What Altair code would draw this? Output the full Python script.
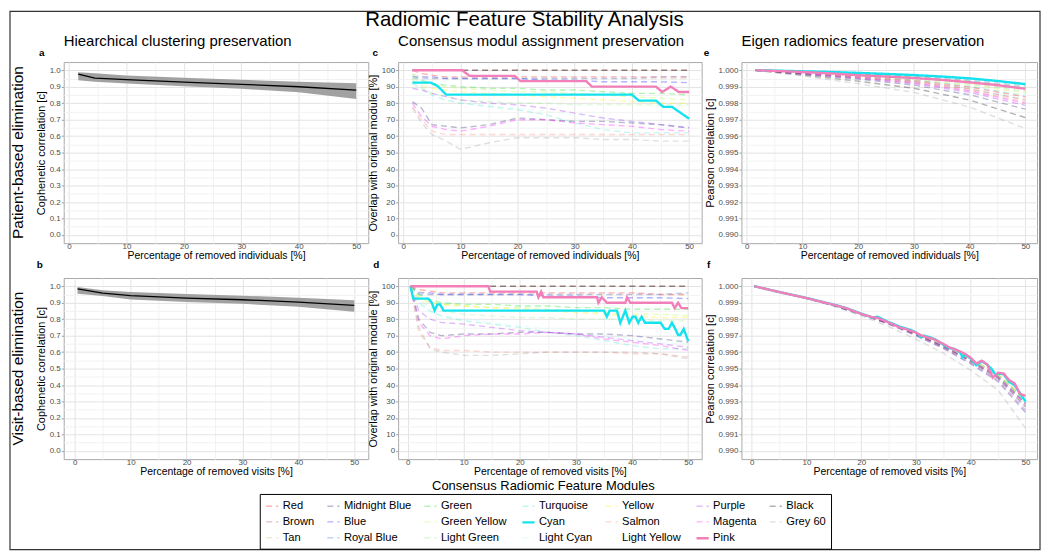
import altair as alt
import pandas as pd

FONT = "Liberation Sans"
H = 182
W1, W2, W3 = 306, 305, 297

# ---------------- module definitions ----------------
# legend is filled column by column (3 rows, 7 columns)
LEGEND_ORDER = ["Red", "Brown", "Tan", "Midnight Blue", "Blue", "Royal Blue",
                "Green", "Green Yellow", "Light Green", "Turquoise", "Cyan", "Light Cyan",
                "Yellow", "Salmon", "Light Yellow", "Purple", "Magenta", "Pink",
                "Black", "Grey 60"]
MODULE_COLORS = {
    "Red": "#ff0000", "Brown": "#a52a2a", "Tan": "#d2b48c",
    "Midnight Blue": "#191970", "Blue": "#0000ff", "Royal Blue": "#4169e1",
    "Green": "#00e000", "Green Yellow": "#adff2f", "Light Green": "#90ee90",
    "Turquoise": "#40e0d0", "Cyan": "#14e3ef", "Light Cyan": "#c8f8f8",
    "Yellow": "#ffee00", "Salmon": "#fa8072", "Light Yellow": "#fffad0",
    "Purple": "#a020f0", "Magenta": "#ff00ff", "Pink": "#f27fb9",
    "Black": "#000000", "Grey 60": "#999999",
}
SOLID_MODULES = ["Cyan", "Pink"]

# ---------------- panel a / b : cophenetic correlation ----------------
A_X = [1.6, 4.5, 10, 20, 30, 40, 50]
A_MID = [0.976, 0.953, 0.943, 0.928, 0.915, 0.900, 0.880]
A_LO = [0.940, 0.930, 0.920, 0.903, 0.888, 0.866, 0.826]
A_HI = [0.988, 0.982, 0.968, 0.955, 0.943, 0.930, 0.921]

B_X = [0.5, 5, 10, 20, 30, 40, 50]
B_MID = [0.984, 0.958, 0.943, 0.928, 0.918, 0.904, 0.884]
B_LO = [0.955, 0.940, 0.920, 0.905, 0.893, 0.876, 0.845]
B_HI = [0.995, 0.975, 0.965, 0.953, 0.943, 0.930, 0.915]

# ---------------- panel c : module overlap, patients ----------------
C_X = [1.6, 3.2, 5, 7.5, 10, 15, 20, 25, 30, 35, 40, 45, 50]
C_FAINT = {
    "Red": [100, 98, 97, 96, 96, 96, 96, 96, 96, 96, 96, 96, 96],
    "Brown": [100, 100, 100, 100, 100, 100, 100, 100, 100, 100, 100, 100, 100],
    "Tan": [98, 96, 95, 95, 95, 95, 95, 95, 95, 95, 95, 95, 95],
    "Midnight Blue": [81, 77, 67, 66, 65, 67, 71, 70, 69, 69, 68, 67, 65],
    "Blue": [96, 96, 96, 95, 95, 95, 95, 94, 94, 93, 93, 93, 92.5],
    "Royal Blue": [95, 95, 95, 95, 95, 95, 95, 95, 95, 95, 95, 96, 96],
    "Green": [97, 94, 92, 91, 90, 89, 89, 88, 88, 87, 86, 86, 85],
    "Green Yellow": [95, 93, 91, 90, 89, 88, 87, 87, 86, 85, 84, 83, 82],
    "Light Green": [94, 90, 86, 84, 82, 81, 80, 80, 79, 79, 79, 79, 79],
    "Turquoise": [92, 89, 85, 82, 80, 78, 76, 73, 68, 64, 62, 62, 62],
    "Light Cyan": [90, 86, 83, 82, 81, 79, 77, 75, 73, 71, 69, 67, 66],
    "Yellow": [93, 91, 89, 88, 87, 86, 85, 84, 83, 82, 81, 80, 80],
    "Salmon": [78, 70, 63, 61, 61, 61, 61, 61, 61, 61, 61, 61, 61],
    "Light Yellow": [91, 89, 87, 86, 85, 84, 83, 82, 81, 80, 79, 78, 78],
    "Purple": [89, 88, 86, 84, 82, 80, 79, 77, 74, 71, 69, 67, 65],
    "Magenta": [80, 72, 66, 64, 63, 66, 70, 70, 68, 67, 66, 64, 63],
    "Black": [100, 100, 100, 100, 100, 100, 100, 100, 100, 100, 100, 100, 100],
    "Grey 60": [77, 68, 61, 57, 52, 56, 59, 59, 59, 58, 58, 57, 57],
}
C_CYAN_X = [1.6, 3.2, 4.8, 6.0, 7.5, 40, 41.2, 44.2, 45.5, 47, 50]
C_CYAN_Y = [92.5, 92.5, 92.5, 90.5, 85.2, 85.2, 81.6, 81.6, 77.8, 77.8, 70.6]
C_PINK_X = [1.6, 10.3, 11.6, 19.5, 20.5, 32, 33, 44.2, 45.3, 46.8, 48.2, 50]
C_PINK_Y = [100, 100, 96.6, 96.6, 93.4, 93.4, 90.1, 90.1, 86.8, 90.1, 86.8, 86.8]

# ---------------- panel d : module overlap, visits ----------------
D_X = [0.5, 2, 4, 6, 10, 15, 20, 25, 30, 35, 40, 45, 50]
D_FAINT = {
    "Red": [100, 98, 97, 96, 96, 96, 96, 96, 96, 96, 96, 95, 95],
    "Brown": [100, 100, 100, 100, 100, 100, 100, 100, 100, 100, 100, 100, 100],
    "Tan": [100, 97, 95, 95, 95, 95, 95, 95, 95, 95, 95, 95, 95],
    "Midnight Blue": [100, 80, 72, 70, 71, 71, 72, 72, 71, 71, 70, 68, 66],
    "Blue": [100, 96, 96, 95, 95, 95, 95, 94, 94, 93, 93, 93, 92.5],
    "Royal Blue": [100, 95, 95, 95, 95, 95, 95, 95, 95, 95, 95, 95, 96],
    "Green": [100, 95, 92, 90, 89, 89, 88, 88, 87, 87, 86, 86, 86],
    "Green Yellow": [100, 94, 91, 89, 88, 87, 87, 86, 85, 84, 83, 83, 82],
    "Light Green": [100, 92, 87, 85, 83, 82, 81, 81, 80, 80, 80, 79, 79],
    "Turquoise": [100, 90, 85, 82, 79, 77, 75, 72, 70, 67, 64, 62, 62],
    "Light Cyan": [100, 88, 84, 82, 80, 78, 76, 74, 72, 70, 68, 66, 65],
    "Yellow": [100, 93, 90, 89, 88, 87, 86, 85, 84, 83, 82, 81, 81],
    "Salmon": [100, 72, 63, 61, 61, 60, 60, 60, 60, 60, 59, 59, 57],
    "Light Yellow": [100, 91, 88, 87, 86, 85, 84, 83, 82, 81, 80, 80, 79],
    "Purple": [100, 85, 80, 78, 77, 75, 73, 72, 71, 69, 67, 65, 63],
    "Magenta": [100, 78, 70, 68, 70, 71, 71, 72, 71, 68, 66, 64, 61],
    "Black": [100, 100, 100, 100, 100, 100, 100, 100, 100, 100, 100, 100, 100],
    "Grey 60": [100, 75, 62, 60, 58, 58, 59, 60, 60, 60, 60, 59, 56],
}
D_CYAN_X = [0.5, 1.0, 3.7, 4.3, 4.8, 5.3, 5.8, 6.4, 35, 35.5, 36, 37.3, 37.9, 38.8, 39.5,
            40.1, 40.6, 41.1, 41.7, 42.3, 45.1, 45.8, 46.5, 47.1, 47.7, 48.2, 48.6, 49.2, 50]
D_CYAN_Y = [100, 92.5, 92.5, 90, 85.3, 88.9, 88.9, 85.2, 85.2, 81.5, 85.2, 85.2, 77.8, 85.2, 77.8,
            81.5, 81.5, 77.8, 81.5, 77.8, 77.8, 74.1, 74.1, 77.8, 74.1, 70.4, 70.4, 74.1, 66.7]
D_PINK_X = [0.5, 14.4, 14.7, 23.0, 23.3, 23.8, 24.2, 33.75, 34.0, 34.6, 35.5, 38.8, 39.1,
            39.7, 47.1, 47.6, 48.2, 48.8, 50]
D_PINK_Y = [100, 100, 96.7, 96.7, 93.3, 96.7, 93.3, 93.3, 90, 93.3, 90, 90, 93.3,
            90, 90, 86.7, 90, 86.7, 86.7]

# ---------------- panel e : eigen feature correlation, patients ----------------
E_X = [1.6, 10, 20, 30, 40, 50]
E_FAINT = {
    "Blue": [1.0, 0.99992, 0.99982, 0.9997, 0.9995, 0.9992],
    "Royal Blue": [1.0, 0.99990, 0.99978, 0.99964, 0.99940, 0.99905],
    "Green": [1.0, 0.99990, 0.99976, 0.99960, 0.99934, 0.99896],
    "Yellow": [1.0, 0.99988, 0.99974, 0.99956, 0.99928, 0.99885],
    "Tan": [1.0, 0.99988, 0.99972, 0.99954, 0.99923, 0.99878],
    "Light Green": [1.0, 0.99987, 0.99970, 0.99951, 0.99918, 0.99870],
    "Green Yellow": [1.0, 0.99986, 0.99968, 0.99948, 0.99913, 0.99862],
    "Light Yellow": [1.0, 0.99986, 0.99967, 0.99945, 0.99909, 0.99855],
    "Turquoise": [1.0, 0.99985, 0.99965, 0.99942, 0.99903, 0.99846],
    "Red": [1.0, 0.99984, 0.99963, 0.99938, 0.99898, 0.99838],
    "Light Cyan": [1.0, 0.99983, 0.99961, 0.99935, 0.99892, 0.99829],
    "Brown": [1.0, 0.99982, 0.99959, 0.99932, 0.99887, 0.99820],
    "Salmon": [1.0, 0.99981, 0.99956, 0.99927, 0.99879, 0.99808],
    "Magenta": [1.0, 0.99980, 0.99954, 0.99924, 0.99874, 0.99800],
    "Purple": [1.0, 0.99979, 0.99951, 0.99919, 0.99866, 0.99787],
    "Midnight Blue": [1.0, 0.99976, 0.99946, 0.99910, 0.99851, 0.99764],
    "Black": [1.0, 0.99971, 0.99934, 0.99891, 0.99819, 0.99713],
    "Grey 60": [1.0, 0.99965, 0.99919, 0.99866, 0.99777, 0.99646],
}
E_CYAN_X = [1.6, 5, 10, 15, 20, 25, 30, 35, 40, 45, 50]
E_CYAN_Y = [1.0, 0.99998, 0.99994, 0.99990, 0.99984, 0.99978, 0.99971, 0.99962, 0.99951, 0.99935, 0.99916]
E_PINK_X = [1.6, 5, 10, 15, 20, 25, 30, 35, 40, 45, 50]
E_PINK_Y = [1.0, 0.99996, 0.99990, 0.99981, 0.99970, 0.99962, 0.99953, 0.99942, 0.99927, 0.99910, 0.99888]

# ---------------- panel f : eigen feature correlation, visits ----------------
F_X = [0.5, 5, 10, 15, 20, 25, 30, 35, 40, 45, 50]
F_FAINT = {
    "Red": [1.0, 0.99965, 0.99929, 0.99885, 0.99834, 0.99781, 0.99716, 0.99644, 0.99558, 0.99462, 0.99308],
    "Brown": [1.0, 0.99965, 0.99929, 0.99884, 0.99832, 0.99779, 0.99713, 0.9964, 0.99552, 0.99454, 0.99293],
    "Tan": [1.0, 0.99965, 0.99929, 0.99885, 0.99834, 0.99782, 0.99717, 0.99646, 0.9956, 0.99465, 0.99313],
    "Midnight Blue": [1.0, 0.99965, 0.99927, 0.99882, 0.99828, 0.9977, 0.99699, 0.99622, 0.99528, 0.99421, 0.99233],
    "Blue": [1.0, 0.99965, 0.99928, 0.99884, 0.99832, 0.99778, 0.99711, 0.99638, 0.9955, 0.99451, 0.99288],
    "Royal Blue": [1.0, 0.99965, 0.99929, 0.99885, 0.99833, 0.9978, 0.99715, 0.99643, 0.99556, 0.99459, 0.99303],
    "Green": [1.0, 0.99965, 0.99929, 0.99885, 0.99834, 0.99782, 0.99716, 0.99645, 0.99559, 0.99463, 0.9931],
    "Green Yellow": [1.0, 0.99965, 0.99929, 0.99884, 0.99833, 0.99779, 0.99713, 0.99641, 0.99553, 0.99455, 0.99295],
    "Light Green": [1.0, 0.99965, 0.99929, 0.99885, 0.99833, 0.99781, 0.99715, 0.99644, 0.99557, 0.99461, 0.99305],
    "Turquoise": [1.0, 0.99965, 0.99929, 0.99884, 0.99832, 0.99779, 0.99712, 0.99639, 0.99551, 0.99453, 0.99291],
    "Light Cyan": [1.0, 0.99965, 0.99929, 0.99885, 0.99833, 0.9978, 0.99714, 0.99642, 0.99555, 0.99458, 0.99301],
    "Yellow": [1.0, 0.99965, 0.99929, 0.99885, 0.99834, 0.99781, 0.99716, 0.99645, 0.99558, 0.99463, 0.99309],
    "Salmon": [1.0, 0.99965, 0.99928, 0.99884, 0.99831, 0.99777, 0.99709, 0.99635, 0.99546, 0.99446, 0.99278],
    "Light Yellow": [1.0, 0.99965, 0.99929, 0.99885, 0.99834, 0.99782, 0.99717, 0.99645, 0.99559, 0.99464, 0.99311],
    "Purple": [1.0, 0.99965, 0.99928, 0.99882, 0.99829, 0.99772, 0.99703, 0.99626, 0.99534, 0.99429, 0.99248],
    "Magenta": [1.0, 0.99965, 0.99928, 0.99884, 0.99832, 0.99777, 0.9971, 0.99637, 0.99548, 0.99448, 0.99283],
    "Black": [1.0, 0.99965, 0.99928, 0.99883, 0.9983, 0.99775, 0.99707, 0.99632, 0.99542, 0.9944, 0.99268],
    "Grey 60": [1.0, 0.99965, 0.99925, 0.99878, 0.9982, 0.99756, 0.99678, 0.99593, 0.9949, 0.99369, 0.99138],
}
F_CYAN_X = [0.5, 5, 10, 15, 17, 20, 22, 23, 25, 27, 28, 29, 30, 31, 31.5, 33, 34, 35, 36, 37, 38,
            38.5, 39, 40, 41, 42, 43, 44, 44.5, 45, 46, 47, 48, 49, 50]
F_CYAN_Y = [1.0, 0.99965, 0.99929, 0.99888, 0.9987, 0.99834, 0.9981, 0.99815, 0.99782, 0.99755,
            0.99745, 0.99735, 0.9972, 0.9969, 0.997, 0.99685, 0.99668, 0.99645, 0.99625, 0.9962,
            0.996, 0.9957, 0.99585, 0.9956, 0.9952, 0.99545, 0.99525, 0.9949, 0.9946, 0.9947,
            0.99465, 0.9942, 0.994, 0.9935, 0.993]
F_PINK_X = [0.5, 5, 10, 15, 17, 20, 22, 23, 25, 27, 28, 30, 31, 33, 35, 36, 38, 39, 40, 41, 42,
            43, 44, 45, 46, 47, 48, 49, 50]
F_PINK_Y = [1.0, 0.99965, 0.99928, 0.99887, 0.9987, 0.99832, 0.99812, 0.99808, 0.9978, 0.9975,
            0.99742, 0.99718, 0.997, 0.99682, 0.9965, 0.9963, 0.99605, 0.99588, 0.99565, 0.9953,
            0.99548, 0.99525, 0.99445, 0.99475, 0.9947, 0.9943, 0.9941, 0.99345, 0.99335]

# ---------------- axis ticks ----------------
X_TICKS = [0, 5, 10, 15, 20, 25, 30, 35, 40, 45, 50]
A_Y_TICKS = [0.0, 0.05, 0.1, 0.15, 0.2, 0.25, 0.3, 0.35, 0.4, 0.45, 0.5,
             0.55, 0.6, 0.65, 0.7, 0.75, 0.8, 0.85, 0.9, 0.95, 1.0]
C_Y_TICKS = [0, 5, 10, 15, 20, 25, 30, 35, 40, 45, 50, 55, 60, 65, 70, 75, 80, 85, 90, 95, 100]
E_Y_TICKS = [0.99, 0.9905, 0.991, 0.9915, 0.992, 0.9925, 0.993, 0.9935, 0.994, 0.9945, 0.995,
             0.9955, 0.996, 0.9965, 0.997, 0.9975, 0.998, 0.9985, 0.999, 0.9995, 1.0]

X_MINOR = "datum.value % 10 != 0"
A_MINOR = "round(datum.value * 100) % 10 != 0"
C_MINOR = "datum.value % 10 != 0"
E_MINOR = "round(datum.value * 10000) % 10 != 0"


def make_axis(title, values, minor, fmt, is_x):
    return alt.Axis(
        title=title, values=values, format=fmt,
        labelExpr=f"({minor}) ? '' : datum.label",
        gridColor={"condition": {"test": minor, "value": "#f2f2f2"}, "value": "#e3e3e3"},
        tickColor={"condition": {"test": minor, "value": "rgba(0,0,0,0)"}, "value": "#a0a0a0"},
        tickSize=1 if is_x else 2.5,
        labelPadding=-2 if is_x else 1,
        titlePadding=0 if is_x else 3,
        domain=False, labelFlush=False, labelOverlap=False,
        labelFont=FONT, labelFontSize=8, labelColor="#4d4d4d",
        titleFont=FONT, titleFontSize=10.5 if is_x else 11,
        titleFontWeight="normal", titleColor="black",
    )


LEGEND = alt.Legend(
    title=None, orient="none", legendX=197, legendY=434, columns=7,
    symbolType="stroke", symbolSize=150, labelFont=FONT, labelFontSize=11.2,
    labelColor="black", labelOffset=3, columnPadding=9.5, rowPadding=3, padding=5,
    strokeColor="black",
)
COLOR = alt.Scale(domain=LEGEND_ORDER, range=[MODULE_COLORS[m] for m in LEGEND_ORDER])
DASH = alt.Scale(domain=LEGEND_ORDER,
                 range=[[1, 0] if m in SOLID_MODULES else [6, 4] for m in LEGEND_ORDER])
WIDTH = alt.Scale(type="ordinal", domain=LEGEND_ORDER,
                  range=[2.4 if m in SOLID_MODULES else 1.4 for m in LEGEND_ORDER])
OPAC = alt.Scale(type="ordinal", domain=LEGEND_ORDER,
                 range=[1.0 if m in SOLID_MODULES else 0.3 for m in LEGEND_ORDER])


def txt(text, x, y, size, weight="normal", angle=0, align="center"):
    return alt.Chart(pd.DataFrame({"t": [text]})).mark_text(
        font=FONT, fontSize=size, fontWeight=weight, angle=angle, align=align,
        baseline="middle", color="black",
    ).encode(x=alt.value(x), y=alt.value(y), text="t:N")


def long_frames(xs, faint, cx, cy, px, py):
    rows = []
    for m, ys in faint.items():
        rows += [{"x": x, "y": y, "module": m} for x, y in zip(xs, ys)]
    solid = [{"x": x, "y": y, "module": "Cyan"} for x, y in zip(cx, cy)]
    solid += [{"x": x, "y": y, "module": "Pink"} for x, y in zip(px, py)]
    return pd.DataFrame(rows), pd.DataFrame(solid)


def line_panel(frames, xdom, ydom, xtitle, ytitle, yticks, yminor, yfmt, width, extras):
    faint_df, solid_df = frames
    xs = alt.Scale(domain=xdom, nice=False, zero=False)
    ys = alt.Scale(domain=ydom, nice=False, zero=False)
    xa = make_axis(xtitle, X_TICKS, X_MINOR, "d", True)
    ya = make_axis(ytitle, yticks, yminor, yfmt, False)

    def enc():
        return dict(
            x=alt.X("x:Q", scale=xs, axis=xa),
            y=alt.Y("y:Q", scale=ys, axis=ya),
            color=alt.Color("module:N", scale=COLOR, legend=LEGEND),
            strokeDash=alt.StrokeDash("module:N", scale=DASH, legend=LEGEND),
            strokeWidth=alt.StrokeWidth("module:N", scale=WIDTH, legend=LEGEND),
            opacity=alt.Opacity("module:N", scale=OPAC, legend=LEGEND),
        )

    faint = alt.Chart(faint_df).mark_line(clip=True).encode(**enc())
    solid = alt.Chart(solid_df).mark_line(clip=True).encode(**enc())
    return alt.layer(faint, solid, *extras).properties(width=width, height=H)


def coph_panel(xs_, mid, lo, hi, xdom, xtitle, extras):
    df = pd.DataFrame({"x": xs_, "mid": mid, "lo": lo, "hi": hi})
    xs = alt.Scale(domain=xdom, nice=False, zero=False)
    ys = alt.Scale(domain=[-0.05, 1.05], nice=False, zero=False)
    xa = make_axis(xtitle, X_TICKS, X_MINOR, "d", True)
    ya = make_axis("Cophenetic correlation [c]", A_Y_TICKS, A_MINOR, ".1f", False)
    band = alt.Chart(df).mark_area(color="#9c9c9c", opacity=0.95).encode(
        x=alt.X("x:Q", scale=xs, axis=xa),
        y=alt.Y("lo:Q", scale=ys, axis=ya),
        y2="hi:Q",
    )
    line = alt.Chart(df).mark_line(color="black", strokeWidth=1.3).encode(
        x=alt.X("x:Q", scale=xs, axis=xa),
        y=alt.Y("mid:Q", scale=ys, axis=ya),
    )
    return alt.layer(*extras[:1], band, line, *extras[1:]).properties(width=W1, height=H)


frame = alt.Chart(pd.DataFrame({"t": [0]})).mark_rect(
    filled=False, stroke="#333333", strokeWidth=1.2
).encode(x=alt.value(-54), x2=alt.value(981), y=alt.value(-51), y2=alt.value(490))

panel_a = coph_panel(A_X, A_MID, A_LO, A_HI, [-0.92, 52.1],
                     "Percentage of removed individuals [%]",
                     [frame,
                      txt("Hiearchical clustering preservation", 0, -21, 15, align="left"),
                      txt("a", -22, -9, 10, weight="bold"),
                      txt("Patient-based elimination", -46, 91, 15.5, angle=270)])
panel_b = coph_panel(B_X, B_MID, B_LO, B_HI, [-1.97, 52.5],
                     "Percentage of removed visits [%]",
                     [txt("b", -24, -13, 10, weight="bold"),
                      txt("Visit-based elimination", -46, 91, 15.5, angle=270),
                      txt("Consensus Radiomic Feature Modules", 482, 209, 13)])

panel_c = line_panel(long_frames(C_X, C_FAINT, C_CYAN_X, C_CYAN_Y, C_PINK_X, C_PINK_Y),
                     [-0.9, 52.2], [-5, 105], "Percentage of removed individuals [%]",
                     "Overlap with original module [%]", C_Y_TICKS, C_MINOR, "d", W2,
                     [txt("Consensus modul assignment preservation", 0, -21, 15, align="left"),
                      txt("c", -23, -9, 10, weight="bold"),
                      txt("Radiomic Feature Stability Analysis", 127, -42, 20.5)])
panel_d = line_panel(long_frames(D_X, D_FAINT, D_CYAN_X, D_CYAN_Y, D_PINK_X, D_PINK_Y),
                     [-1.7, 52.4], [-5, 105], "Percentage of removed visits [%]",
                     "Overlap with original module [%]", C_Y_TICKS, C_MINOR, "d", W2,
                     [txt("d", -22, -13, 10, weight="bold")])
panel_e = line_panel(long_frames(E_X, E_FAINT, E_CYAN_X, E_CYAN_Y, E_PINK_X, E_PINK_Y),
                     [-0.95, 52.1], [0.9895, 1.0005], "Percentage of removed individuals [%]",
                     "Pearson correlation [c]", E_Y_TICKS, E_MINOR, ".3f", W3,
                     [txt("Eigen radiomics feature preservation", 0, -21, 15, align="left"),
                      txt("e", -35, -9, 10, weight="bold")])
panel_f = line_panel(long_frames(F_X, F_FAINT, F_CYAN_X, F_CYAN_Y, F_PINK_X, F_PINK_Y),
                     [-1.87, 52.1], [0.9895, 1.0005], "Percentage of removed visits [%]",
                     "Pearson correlation [c]", E_Y_TICKS, E_MINOR, ".3f", W3,
                     [txt("f", -33, -13, 10, weight="bold")])


def spacer(w):
    return alt.Chart(pd.DataFrame({"t": [0]})).mark_point(opacity=0).properties(
        width=w, height=H, view=alt.ViewBackground(strokeOpacity=0))


chart = alt.concat(
    panel_a, spacer(20), panel_c, spacer(30), panel_e,
    panel_b, spacer(20), panel_d, spacer(30), panel_f,
    columns=5, spacing={"row": 35, "column": 5}, bounds="flush", align="each",
).properties(
    padding=0, background="white"
).configure_view(stroke="#a8a8a8", strokeWidth=1)

chart.save("out.html", embed_options={"renderer": "svg", "actions": False})
